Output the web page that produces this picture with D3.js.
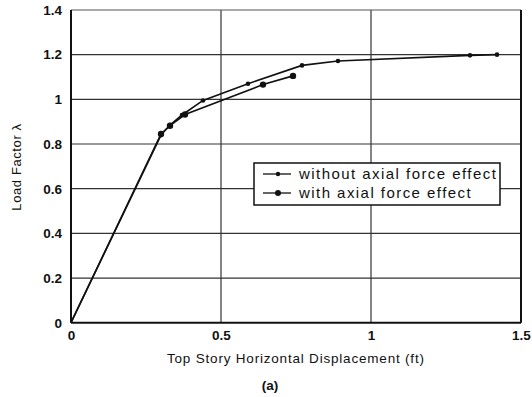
<!DOCTYPE html>
<html><head><meta charset="utf-8">
<script src="https://cdn.jsdelivr.net/npm/d3@7"></script>
<style>body{margin:0;background:#fff}svg{display:block}text{font-family:"Liberation Sans",Arial,sans-serif;fill:#111}</style>
</head><body><svg id="c" width="532" height="397"></svg>
<script>
const xTicks = [0, 0.5, 1, 1.5];
const xTickLabels = ["0", "0.5", "1", "1.5"];
const yTicks = [0, 0.2, 0.4, 0.6, 0.8, 1, 1.2, 1.4];
const yTickLabels = ["0", "0.2", "0.4", "0.6", "0.8", "1", "1.2", "1.4"];
const withoutX = [0, 0.30, 0.33, 0.37, 0.44, 0.59, 0.77, 0.89, 1.33, 1.42];
const withoutY = [0, 0.84, 0.885, 0.93, 0.995, 1.07, 1.152, 1.172, 1.197, 1.2];
const withX = [0, 0.30, 0.33, 0.38, 0.64, 0.74];
const withY = [0, 0.845, 0.882, 0.932, 1.066, 1.105];
const seriesNames = ["without axial force effect", "with axial force effect"];

const svg = d3.select("#c");
const x = d3.scaleLinear().domain([0, 1.5]).range([71, 521]);
const y = d3.scaleLinear().domain([0, 1.4]).range([322.7, 10]);

// gridlines
svg.append("g").selectAll("line").data(yTicks.slice(1, -1)).join("line")
  .attr("x1", x(0)).attr("x2", x(1.5)).attr("y1", d => y(d)).attr("y2", d => y(d))
  .attr("stroke", "#333").attr("stroke-width", 1.2);
svg.append("g").selectAll("line").data(xTicks.slice(1, -1)).join("line")
  .attr("y1", y(0)).attr("y2", y(1.4)).attr("x1", d => x(d)).attr("x2", d => x(d))
  .attr("stroke", "#333").attr("stroke-width", 1.2);
// frame
svg.append("line").attr("x1", x(0)).attr("x2", x(1.5)).attr("y1", y(1.4)).attr("y2", y(1.4)).attr("stroke", "#555").attr("stroke-width", 1.2);
svg.append("line").attr("x1", x(0)).attr("x2", x(0)).attr("y1", y(0)).attr("y2", y(1.4)).attr("stroke", "#111").attr("stroke-width", 2);
svg.append("line").attr("x1", x(1.5)).attr("x2", x(1.5)).attr("y1", y(0)).attr("y2", y(1.4)).attr("stroke", "#111").attr("stroke-width", 2);
svg.append("line").attr("x1", x(0)).attr("x2", x(1.5)).attr("y1", y(0)).attr("y2", y(0)).attr("stroke", "#111").attr("stroke-width", 2);

// axes labels
const xAxis = d3.axisBottom(x).tickValues(xTicks).tickFormat((d, i) => xTickLabels[i]).tickSize(0).tickPadding(8);
const gx = svg.append("g").attr("transform", `translate(0,${y(0)})`).call(xAxis);
gx.select(".domain").remove();
gx.selectAll("text").attr("font-size", 13.5).attr("font-weight", "bold").attr("fill", "#222").style("font-family", "Liberation Sans, Arial, sans-serif");
const yAxis = d3.axisLeft(y).tickValues(yTicks).tickFormat((d, i) => yTickLabels[i]).tickSize(0).tickPadding(9);
const gy = svg.append("g").attr("transform", `translate(${x(0)},0)`).call(yAxis);
gy.select(".domain").remove();
gy.selectAll("text").attr("font-size", 13.5).attr("font-weight", "bold").attr("fill", "#222").style("font-family", "Liberation Sans, Arial, sans-serif");

// series
const line = d3.line().x(d => x(d[0])).y(d => y(d[1]));
const dWithout = withoutX.map((v, i) => [v, withoutY[i]]);
const dWith = withX.map((v, i) => [v, withY[i]]);
svg.append("path").datum(dWithout).attr("d", line).attr("fill", "none").attr("stroke", "#111").attr("stroke-width", 1.6);
svg.append("path").datum(dWith).attr("d", line).attr("fill", "none").attr("stroke", "#111").attr("stroke-width", 1.6);
svg.append("g").selectAll("circle").data(dWithout.slice(1)).join("circle")
  .attr("cx", d => x(d[0])).attr("cy", d => y(d[1])).attr("r", 2.3).attr("fill", "#111");
svg.append("g").selectAll("circle").data(dWith.slice(1)).join("circle")
  .attr("cx", d => x(d[0])).attr("cy", d => y(d[1])).attr("r", 3.2).attr("fill", "#111");

// legend
const lg = svg.append("g");
lg.append("rect").attr("x", 254).attr("y", 163).attr("width", 246).attr("height", 42)
  .attr("fill", "#fff").attr("stroke", "#111").attr("stroke-width", 1.5);
[[174, 2.2], [193, 3]].forEach(([ly, r], i) => {
  lg.append("line").attr("x1", 263).attr("x2", 291).attr("y1", ly).attr("y2", ly).attr("stroke", "#111").attr("stroke-width", 1.3);
  lg.append("circle").attr("cx", 278).attr("cy", ly).attr("r", r).attr("fill", "#111");
  lg.append("text").attr("x", 299).attr("y", ly + 5).attr("font-size", 15).attr("letter-spacing", 1.45).attr("fill", "#111").text(seriesNames[i]);
});

// titles
svg.append("text").attr("x", 167).attr("y", 363).attr("font-size", 13.5).attr("letter-spacing", 0.8).attr("fill", "#222").text("Top Story Horizontal Displacement (ft)");
svg.append("text").attr("x", 270).attr("y", 390).attr("text-anchor", "middle").attr("font-size", 13.5).attr("font-weight", "bold").attr("fill", "#222").text("(a)");
svg.append("text").attr("transform", "translate(21,167) rotate(-90)").attr("text-anchor", "middle").attr("font-size", 13).attr("letter-spacing", 0.6).attr("fill", "#222").text("Load Factor λ");
</script></body></html>
